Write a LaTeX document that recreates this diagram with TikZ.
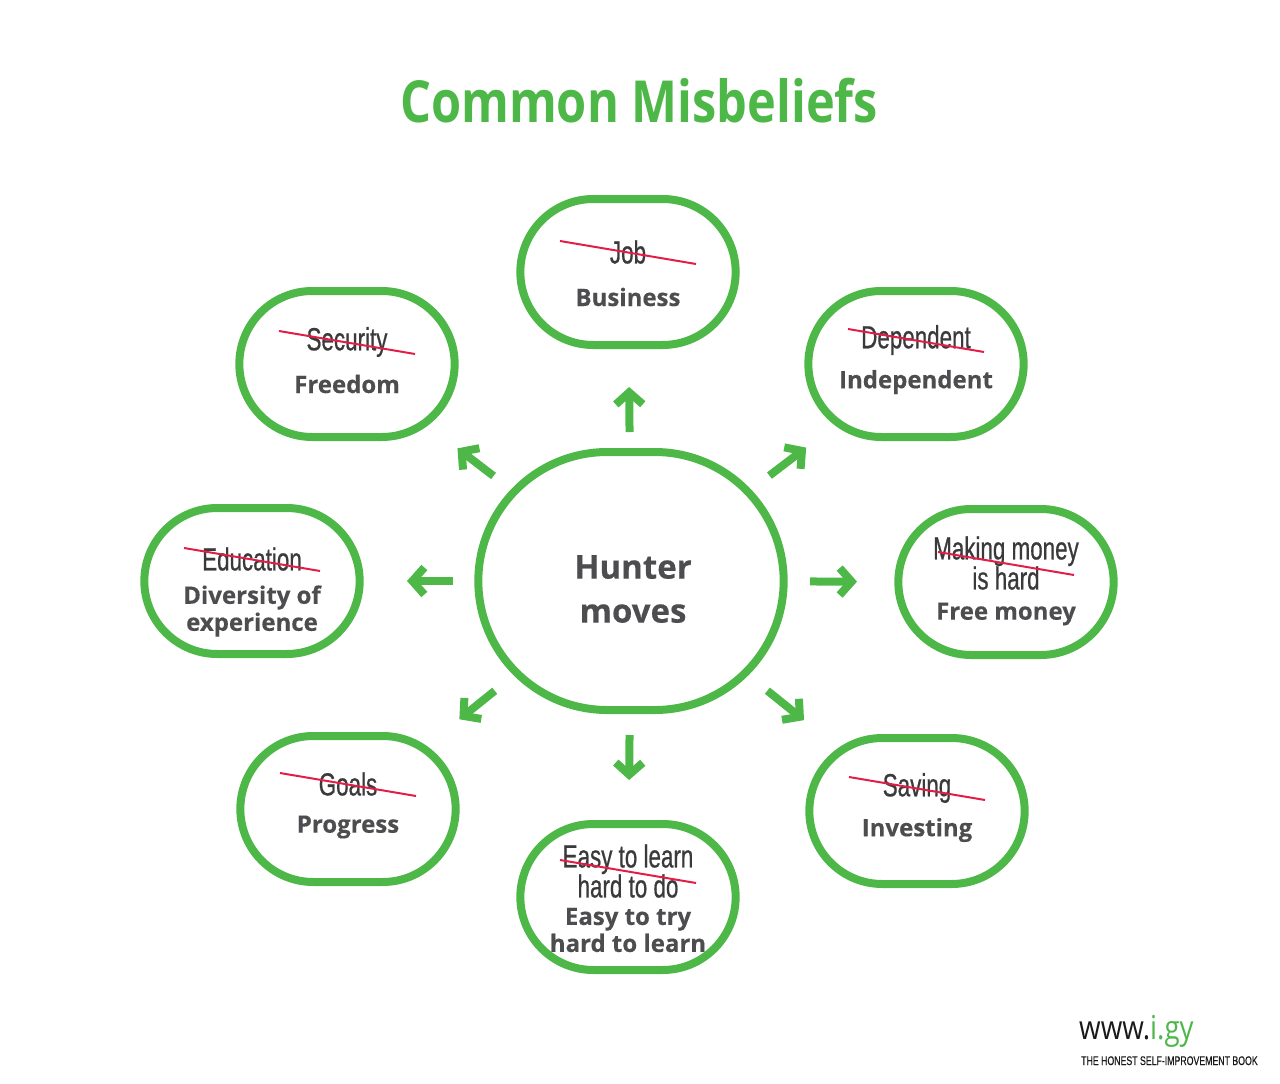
\documentclass[tikz,border=0pt]{standalone}
\usepackage{fontspec}
\setmainfont{Open Sans}[BoldFeatures={FakeBold=0.3}]
\newfontfamily\oldfont[FakeStretch=0.7,FakeBold=0.6]{Liberation Sans}
\newfontfamily\titlefont[FakeStretch=0.84]{Open Sans}
\usetikzlibrary{arrows.meta,calc,shapes.misc}

\definecolor{leaf}{RGB}{77,184,72}
\definecolor{ink}{RGB}{77,77,79}
\definecolor{strike}{RGB}{226,30,72}
\newcommand\tightlines{\lineskiplimit=-40pt\relax}

\begin{document}
\begin{tikzpicture}[x=1pt,y=-1pt,
    bubble/.style={rounded rectangle,draw=leaf,line width=8pt,
                   minimum width=222pt,minimum height=146pt},
    hub/.style={bubble,minimum width=312pt,minimum height=258pt},
    big/.style={text=ink,align=center,inner sep=0pt,
                font=\bfseries\fontsize{33}{44}\selectfont},
    old/.style={text=ink!75!black,align=center,inner sep=0pt,
                font=\oldfont\fontsize{32}{30}\selectfont\tightlines},
    new/.style={text=ink,align=center,inner sep=0pt,
                font=\bfseries\fontsize{24}{27}\selectfont\tightlines},
    cross/.style={strike,line width=2pt},
    push/.style={leaf,line width=8pt,-{Straight Barb[length=12pt,width=27pt]}}]
  \useasboundingbox (0,0) rectangle (1280,1084);

  \node[text=leaf,font=\titlefont\bfseries\fontsize{58}{60}\selectfont]
    (title) at (639,101) {Common Misbeliefs};

  \node[hub] (hub) at (631,581) {};
  \node[big] (hub-t) at ($(hub)+(2,8)$) {Hunter\\moves};

  % outer bubbles: name/x/y/old text/new text/old shift/new shift
  \foreach \n/\x/\y/\o/\w/\a/\b in {
      job/628/272/Job/Business/-20/25,
      sec/347/364/Security/Freedom/-22/20,
      dep/916/364/Dependent/Independent/-24/18,
      edu/252/581/Education/{Diversity of\\experience}/-22/30,
      mon/1006/582/{Making money\\is hard}/Free money/-19/32,
      goal/348/809/Goals/Progress/-25/18,
      easy/628/897/{Easy to learn\\hard to do}/{Easy to try\\hard to learn}/-26/33,
      sav/917/811/Saving/Investing/-23/19} {
    \node[bubble] (\n) at (\x,\y) {};
    \node[old] (\n-o) at ($(\n)+(0,\a)$) {\o};
    \node[new] (\n-n) at ($(\n)+(0,\b)$) {\w};
    \draw[cross] ($(\n-o)+(-68,-11)$) -- ($(\n-o)+(68,12)$);
  }

  \foreach \n/\s/\e in {job/149/115, mon/179/149, sav/175/145, easy/154/117,
                        goal/175/143, edu/178/155, sec/173/139, dep/174/138}
    \draw[push,shorten <=\s pt,shorten >=\e pt] (hub.center) -- (\n.center);

  \node[anchor=base west,text=black!90,inner sep=0pt,
        font=\titlefont\fontsize{33}{33}\selectfont]
    (site) at (1079,1039) {www.\textcolor{leaf}{i.gy}};
  \node[anchor=base west,text=black!90,inner sep=0pt,
        font=\oldfont\fontsize{12.5}{13}\selectfont]
    (motto) at (1081,1065) {THE HONEST SELF-IMPROVEMENT BOOK};
\end{tikzpicture}
\end{document}
